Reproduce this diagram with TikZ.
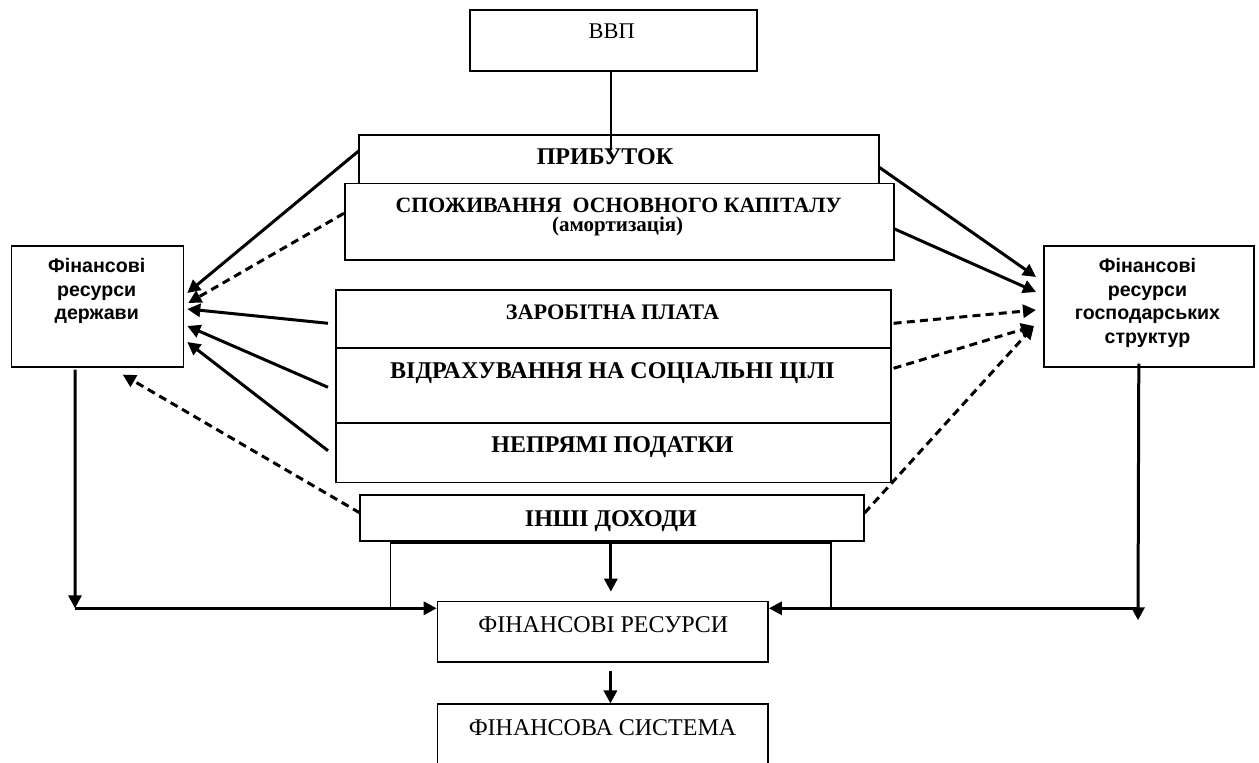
\documentclass[tikz,border=0pt]{standalone}
\usepackage{fontspec}
\setmainfont{Liberation Serif}
\newfontfamily\arialf{Liberation Sans}
\usetikzlibrary{arrows.meta, calc}

\tikzset{
  box/.style={draw, line width=0.8pt, inner sep=0pt, anchor=north west},
  rt/.style={anchor=base, inner sep=0pt, font=\fontsize{12}{14}\selectfont},
  bt/.style={anchor=base, inner sep=0pt, font=\bfseries\fontsize{12}{14}\selectfont},
  st/.style={anchor=north, inner sep=0pt, align=center, font=\arialf\bfseries\fontsize{9.8}{11.7}\selectfont},
  flow/.style={->, line width=1.5pt},
  dflow/.style={->, line width=1.5pt, dash pattern=on 4pt off 2.6pt},
}

\begin{document}
\begin{tikzpicture}[x=0.5pt, y=-0.5pt, >={Triangle[length=6.5pt, width=6.5pt]}]

\fill[white] (0,0) rectangle (1259,763);
\useasboundingbox (0,0) rectangle (1259,763);

%------------------------------------------------
% Blocchi centrali
%------------------------------------------------
\node[box, minimum width=143.5pt, minimum height=30.5pt] (vvp) at (469,9) {};
\node[rt, font=\fontsize{11.2}{13}\selectfont] (vvpt) at (611.7,38.5) {ВВП};

% prybutok: box aperto in basso
\node[inner sep=0pt, anchor=north west, minimum width=259.5pt, minimum height=25.5pt] (prib) at (359,135) {};
\draw[line width=0.8pt] (prib.south west) -- (prib.north west) -- (prib.north east) -- (prib.south east);
\node[bt] (pribt) at (605,165) {ПРИБУТОК};

\node[box, fill=white, minimum width=274.5pt, minimum height=38.3pt] (spozh) at (344,182.7) {};
\node[bt, font=\bfseries\fontsize{10.9}{12}\selectfont] (spozht) at (618.6,213) {СПОЖИВАННЯ\ \ ОСНОВНОГО КАПІТАЛУ};
\node[bt, font=\bfseries\fontsize{10.5}{12}\selectfont] (amort) at (617.7,232) {(амортизація)};

\node[box, minimum width=277.5pt, minimum height=29pt] (zar) at (335,289.3) {};
\node[box, minimum width=277.5pt, minimum height=37.5pt] (vidr) at (335,347.3) {};
\node[box, minimum width=277.5pt, minimum height=29.7pt] (nepr) at (335,422.3) {};
\node[bt, font=\bfseries\fontsize{11.1}{13}\selectfont] (zart) at (612.5,320) {ЗАРОБІТНА ПЛАТА};
\node[bt] (vidrt) at (612.5,378.5) {ВІДРАХУВАННЯ НА СОЦІАЛЬНІ ЦІЛІ};
\node[bt] (neprt) at (612.5,453) {НЕПРЯМІ ПОДАТКИ};

\node[box, minimum width=252pt, minimum height=23pt] (inshi) at (359,494) {};
\node[bt] (inshit) at (610.8,526.7) {ІНШІ ДОХОДИ};

\node[box, minimum width=165.3pt, minimum height=30.2pt] (fr) at (436.7,600.7) {};
\node[rt] (frt) at (603.3,633) {ФІНАНСОВІ РЕСУРСИ};
\node[box, minimum width=165.3pt, minimum height=36pt] (fs) at (436.7,703.5) {};
\node[rt] (fst) at (602.5,736) {ФІНАНСОВА СИСТЕМА};

% Blocchi laterali
\node[box, minimum width=86pt, minimum height=60.5pt] (derzh) at (10.7,245) {};
\node[st] (derzht) at (96.7,258.3) {Фінансові\\ресурси\\держави};
\node[box, minimum width=105pt, minimum height=60.5pt] (gosp) at (1043,245) {};
\node[st] (gospt) at (1147.5,258.3) {Фінансові\\ресурси\\господарських\\структур};

%------------------------------------------------
% Collegamenti
%------------------------------------------------
\draw[line width=0.7pt] ([xshift=-1.2pt]vvp.south) -- ++(0,78);

% verso le risorse dello stato
\draw[flow]  ([shift={(0,15.7)}]prib.north west) -- ([shift={(3,48)}]derzh.north east);
\draw[dflow] ([shift={(0,30.6)}]spozh.north west) -- ([shift={(4,58)}]derzh.north east);
\draw[flow]  ([shift={(-7,34)}]zar.north west) -- ([shift={(3,64)}]derzh.north east);
\draw[flow]  ([shift={(-7,40)}]vidr.north west) -- ([shift={(3,81)}]derzh.north east);
\draw[flow]  ([shift={(-7,28.4)}]nepr.north west) -- ([shift={(3,97)}]derzh.north east);
\draw[dflow] ([shift={(1,19)}]inshi.north west) -- ([shift={(112,7)}]derzh.south west);

% verso le risorse delle imprese
\draw[flow]  ([shift={(0,32)}]prib.north east) -- ([shift={(-7,32)}]gosp.north west);
\draw[flow]  ([shift={(0,46.3)}]spozh.north east) -- ([shift={(-7,47)}]gosp.north west);
\draw[dflow] ([shift={(2,34)}]zar.north east) -- ([shift={(-7,65)}]gosp.north west);
\draw[dflow] ([shift={(2,21)}]vidr.north east) -- ([shift={(-9,81)}]gosp.north west);
\draw[dflow] ([shift={(0,19)}]inshi.north east) -- ([shift={(-9,81)}]gosp.north west);

% parte bassa
\coordinate (lcorner) at (75,608.3);
\coordinate (rcorner) at (1138,608.3);
\coordinate (brl) at (390.7,543);
\coordinate (brr) at (831,543);
\coordinate (brm) at ($(brl)!0.5!(brr)$);

\draw[line width=0.7pt] (brl |- lcorner) -- (brl) -- (brr) -- (brr |- lcorner);
\draw[flow, shorten >=4.5pt] (brm) -- (brm |- fr.north);

\draw[flow] ([shift={(64.3,2)}]derzh.south west) -- (lcorner);
\draw[flow] (lcorner) -- (lcorner -| fr.west);
\draw[flow] ([shift={(-10,-4)}]gosp.south) -- ([yshift=-6pt]rcorner);
\draw[flow] (rcorner) -- (rcorner -| fr.east);
\draw[flow] ([shift={(7.6,8)}]fr.south) -- ([xshift=3.8pt]fs.north);

\end{tikzpicture}
\end{document}
